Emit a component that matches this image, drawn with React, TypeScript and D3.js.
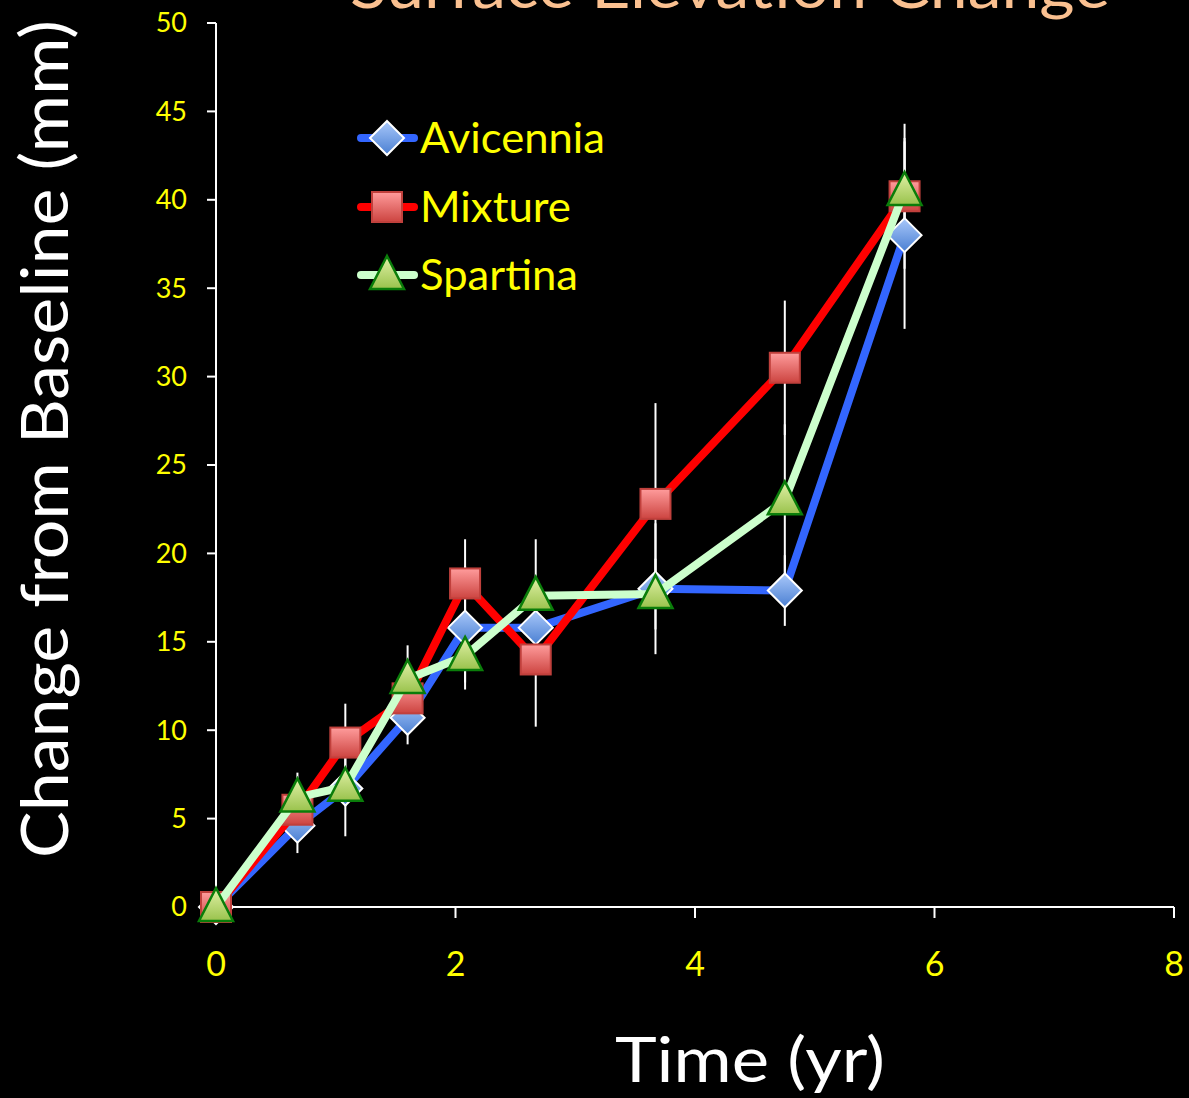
import * as d3 from 'd3';
import React, { useRef, useEffect } from 'react';

// time (yr) of each survey
const times = [0, 0.68, 1.08, 1.6, 2.08, 2.67, 3.67, 4.75, 5.75];

// change from baseline (mm)
const avicennia = [0, 4.6, 6.7, 10.7, 15.8, 15.8, 18.0, 17.9, 38.0];
const mixture = [0, 5.5, 9.3, 11.8, 18.3, 14.0, 22.8, 30.5, 40.2];
const spartina = [0, 6.2, 6.8, 12.9, 14.2, 17.6, 17.7, 23.0, 40.5];

// +/- error
const avicenniaErr = [0, 1.55, 1.0, 1.5, 3.5, 2.0, 3.7, 2.0, 5.3];
const mixtureErr = [0, 1.0, 2.2, 1.0, 2.5, 3.8, 5.7, 3.8, 4.1];
const spartinaErr = [0, 1.4, 2.8, 1.9, 1.5, 3.2, 2.0, 4.3, 3.0];

const seriesNames = ['Avicennia', 'Mixture', 'Spartina'];
const yTicks = [0, 5, 10, 15, 20, 25, 30, 35, 40, 45, 50];
const xTicks = [0, 2, 4, 6, 8];

const W = 1189;
const H = 1098;

function App() {
  const ref = useRef(null);

  useEffect(() => {
    const svg = d3.select(ref.current);
    svg.selectAll('*').remove();

    svg.append('rect').attr('width', W).attr('height', H).attr('fill', '#000');

    const x = d3.scaleLinear().domain([0, 8]).range([216, 1174]);
    const y = d3.scaleLinear().domain([0, 50]).range([907, 23]);

    const defs = svg.append('defs');
    const grad = (id, top, bottom) => {
      const g = defs.append('linearGradient').attr('id', id)
        .attr('x1', 0).attr('y1', 0).attr('x2', 0).attr('y2', 1);
      g.append('stop').attr('offset', '0%').attr('stop-color', top);
      g.append('stop').attr('offset', '100%').attr('stop-color', bottom);
    };
    grad('gBlue', '#a9c8fa', '#4a7fd2');
    grad('gRed', '#ff9c9c', '#cc4440');
    grad('gGreen', '#e2f2a8', '#99c24c');

    const series = [
      { name: seriesNames[0], vals: avicennia, err: avicenniaErr, color: '#3366ff', marker: 'diamond', len: 185 },
      { name: seriesNames[1], vals: mixture, err: mixtureErr, color: '#ff0000', marker: 'square', len: 151 },
      { name: seriesNames[2], vals: spartina, err: spartinaErr, color: '#ccffcc', marker: 'triangle', len: 158 },
    ];

    const drawMarker = (g, kind, cx, cy) => {
      if (kind === 'diamond') {
        g.append('path')
          .attr('d', `M${cx},${cy - 17}L${cx + 17},${cy}L${cx},${cy + 17}L${cx - 17},${cy}Z`)
          .attr('fill', 'url(#gBlue)').attr('stroke', '#fff').attr('stroke-width', 2);
      } else if (kind === 'square') {
        g.append('rect')
          .attr('x', cx - 15).attr('y', cy - 15).attr('width', 30).attr('height', 30)
          .attr('fill', 'url(#gRed)').attr('stroke', '#c0403c').attr('stroke-width', 2);
      } else {
        g.append('path')
          .attr('d', `M${cx},${cy - 19}L${cx + 17},${cy + 14}L${cx - 17},${cy + 14}Z`)
          .attr('fill', 'url(#gGreen)').attr('stroke', '#0a7d0a').attr('stroke-width', 2.5)
          .attr('stroke-linejoin', 'miter');
      }
    };

    // axes
    const axes = svg.append('g').attr('stroke', '#fff').attr('stroke-width', 2);
    axes.append('line').attr('x1', x(0)).attr('x2', x(0)).attr('y1', y(50)).attr('y2', y(0));
    axes.append('line').attr('x1', x(0)).attr('x2', x(8)).attr('y1', y(0)).attr('y2', y(0));
    yTicks.forEach(t => {
      axes.append('line').attr('x1', x(0) - 9).attr('x2', x(0)).attr('y1', y(t)).attr('y2', y(t));
    });
    xTicks.filter(t => t > 0).forEach(t => {
      axes.append('line').attr('x1', x(t)).attr('x2', x(t)).attr('y1', y(0)).attr('y2', y(0) + 11);
    });

    svg.append('g').selectAll('text').data(yTicks).enter().append('text')
      .attr('x', 187).attr('y', d => y(d)).attr('dy', '0.35em')
      .attr('text-anchor', 'end').attr('fill', '#ffff00')
      .attr('font-family', 'Lato, sans-serif').attr('font-size', 27)
      .text(d => d);

    svg.append('g').selectAll('text').data(xTicks).enter().append('text')
      .attr('x', d => x(d)).attr('y', 976)
      .attr('text-anchor', 'middle').attr('fill', '#ffff00')
      .attr('font-family', 'Lato, sans-serif').attr('font-size', 34)
      .text(d => d);

    // error bars
    const eb = svg.append('g').attr('stroke', '#fff').attr('stroke-width', 2);
    series.forEach(s => {
      times.forEach((t, i) => {
        if (s.err[i] > 0) {
          eb.append('line').attr('x1', x(t)).attr('x2', x(t))
            .attr('y1', y(s.vals[i] + s.err[i])).attr('y2', y(s.vals[i] - s.err[i]));
        }
      });
    });

    const line = d3.line().x(d => x(d[0])).y(d => y(d[1]));
    series.forEach(s => {
      const g = svg.append('g');
      g.append('path')
        .attr('d', line(times.map((t, i) => [t, s.vals[i]])))
        .attr('fill', 'none').attr('stroke', s.color).attr('stroke-width', 8)
        .attr('stroke-linejoin', 'round');
      times.forEach((t, i) => drawMarker(g, s.marker, x(t), y(s.vals[i])));
    });

    // legend
    const legY = [138, 207, 275];
    series.forEach((s, i) => {
      const g = svg.append('g');
      g.append('line').attr('x1', 361).attr('x2', 414).attr('y1', legY[i]).attr('y2', legY[i])
        .attr('stroke', s.color).attr('stroke-width', 8).attr('stroke-linecap', 'round');
      drawMarker(g, s.marker, 387, legY[i]);
      g.append('text').attr('x', 420).attr('y', legY[i]).attr('dy', '0.36em')
        .attr('fill', '#ffff00').attr('font-family', 'Lato, sans-serif').attr('font-size', 42)
        .attr('textLength', s.len).attr('lengthAdjust', 'spacingAndGlyphs')
        .text(s.name);
    });

    // titles
    svg.append('text').attr('x', 730).attr('y', 8).attr('text-anchor', 'middle')
      .attr('fill', '#fac090').attr('font-family', 'Lato, sans-serif').attr('font-size', 62)
      .attr('textLength', 760).attr('lengthAdjust', 'spacingAndGlyphs')
      .text('Surface Elevation Change');

    svg.append('text').attr('x', 750).attr('y', 1082).attr('text-anchor', 'middle')
      .attr('fill', '#fff').attr('font-family', 'Lato, sans-serif').attr('font-size', 62)
      .attr('textLength', 270).attr('lengthAdjust', 'spacingAndGlyphs')
      .text('Time (yr)');

    svg.append('text').attr('transform', 'translate(68,439) rotate(-90)')
      .attr('text-anchor', 'middle')
      .attr('fill', '#fff').attr('font-family', 'Lato, sans-serif').attr('font-size', 66)
      .attr('textLength', 838).attr('lengthAdjust', 'spacingAndGlyphs')
      .text('Change from Baseline (mm)');
  });

  return (
    <div style={{ position: 'absolute', left: 0, top: 0, width: W, height: H, background: '#000' }}>
      <svg ref={ref} width={W} height={H} style={{ display: 'block' }}></svg>
    </div>
  );
}

export default App;
